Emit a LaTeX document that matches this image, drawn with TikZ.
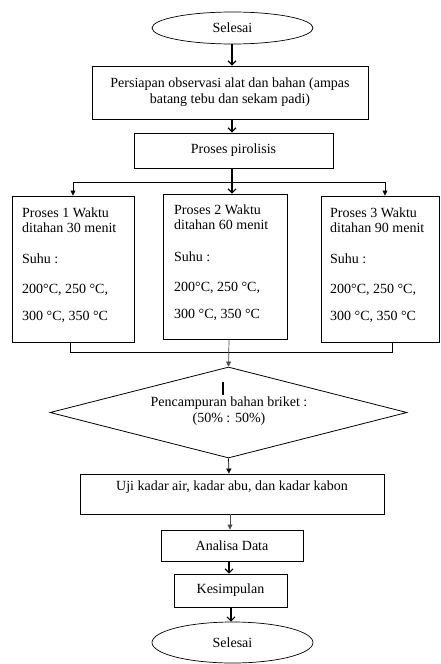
\documentclass[tikz,border=0pt]{standalone}
\usepackage{fontspec}
\setmainfont{Liberation Serif}
\usetikzlibrary{shapes.geometric,arrows.meta}
\begin{document}
\begin{tikzpicture}[x=1pt,y=-1pt,
  every node/.style={font=\fontsize{14}{16}\selectfont},
  box/.style={draw, line width=0.9pt, inner sep=0pt, align=center},
  oval/.style={draw, ellipse, line width=0.7pt, inner sep=0pt},
  sidetext/.style={anchor=north west, inner sep=0pt, align=left, font=\fontsize{14}{15}\selectfont},
  barb/.style={line width=1.1pt, -{Straight Barb[length=4pt,width=8pt]}},
  tri/.style={line width=0.7pt, -{Triangle[length=5pt,width=5pt]}},
  plain/.style={line width=0.9pt}]
\useasboundingbox (0,0) rectangle (440,664);

\node[oval, minimum width=161pt, minimum height=32pt] (start) at (232.5,28) {Selesai};
\node[box, minimum width=276pt, minimum height=53pt] (prep) at (230,92.5)
  {Persiapan observasi alat dan bahan (ampas\\batang tebu dan sekam padi)};
\node[box, minimum width=199pt, minimum height=35pt] (pir) at (233.5,150.5) {Proses pirolisis};

\node[box, minimum width=122pt, minimum height=146pt] (p1) at (73,269) {};
\node[box, minimum width=124pt, minimum height=145pt] (p2) at (225,266.5) {};
\node[box, minimum width=118pt, minimum height=146pt] (p3) at (380,269) {};

\node[sidetext] (t1) at (22,208) {Proses 1 Waktu\\ditahan 30 menit\\[16pt]Suhu :\\[15pt]200°C, 250 °C,\\[12pt]300 °C, 350 °C};
\node[sidetext] (t2) at (174,205) {Proses 2 Waktu\\ditahan 60 menit\\[17pt]Suhu :\\[15pt]200°C, 250 °C,\\[12pt]300 °C, 350 °C};
\node[sidetext] (t3) at (330,208) {Proses 3 Waktu\\ditahan 90 menit\\[16pt]Suhu :\\[15pt]200°C, 250 °C,\\[12pt]300 °C, 350 °C};

\node[diamond, draw, line width=0.8pt, aspect=3.92, minimum width=357pt, minimum height=91pt, inner sep=0pt] (mix) at (228.5,412.5) {};
\node[align=center, inner sep=0pt] (mixt) at (229,411) {Pencampuran bahan briket :\\(50\% : 50\%)};

\node[box, minimum width=304pt, minimum height=40pt] (uji) at (232,494) {};
\node[inner sep=0pt] (ujit) at (232,487) {Uji kadar air, kadar abu, dan kadar kabon};

\node[box, minimum width=142pt, minimum height=31pt] (ana) at (232,545.5) {Analisa Data};
\node[box, minimum width=113pt, minimum height=33pt] (kes) at (230.5,590.5) {Kesimpulan};
\node[oval, minimum width=161pt, minimum height=41pt] (end) at (232.5,642.5) {Selesai};

% connectors
\draw[barb] (start.south -| 232,0) -- (232,0 |- prep.north);
\draw[barb] (prep.south -| 232,0) -- (232,0 |- pir.north);
\coordinate (bl) at (73,182);
\coordinate (br) at (385,182);
\draw[plain] (bl) -- (br);
\draw[barb] (pir.south -| 232,0) -- (232,0 |- p2.north);
\draw[tri] (bl) -- (bl |- p1.north);
\draw[tri] (br) -- (br |- p3.north);

\coordinate (jl) at (70,352);
\coordinate (jr) at (392,352);
\draw[plain] (jl |- p1.south) -- (jl) -- (jr) -- (jr |- p3.south);
\draw[tri, draw=black!70] (229,0 |- p2.south) -- (mix.north);
\draw[line width=1.6pt] (223,382) -- (223,395);

\draw[tri] (mix.south) -- (229,0 |- uji.north);
\draw[tri, draw=black!70] (230,0 |- uji.south) -- (230,0 |- ana.north);
\draw[barb] (229,0 |- ana.south) -- (229,0 |- kes.north);
\draw[barb] (231,0 |- kes.south) -- (231,0 |- end.north);
\end{tikzpicture}
\end{document}
